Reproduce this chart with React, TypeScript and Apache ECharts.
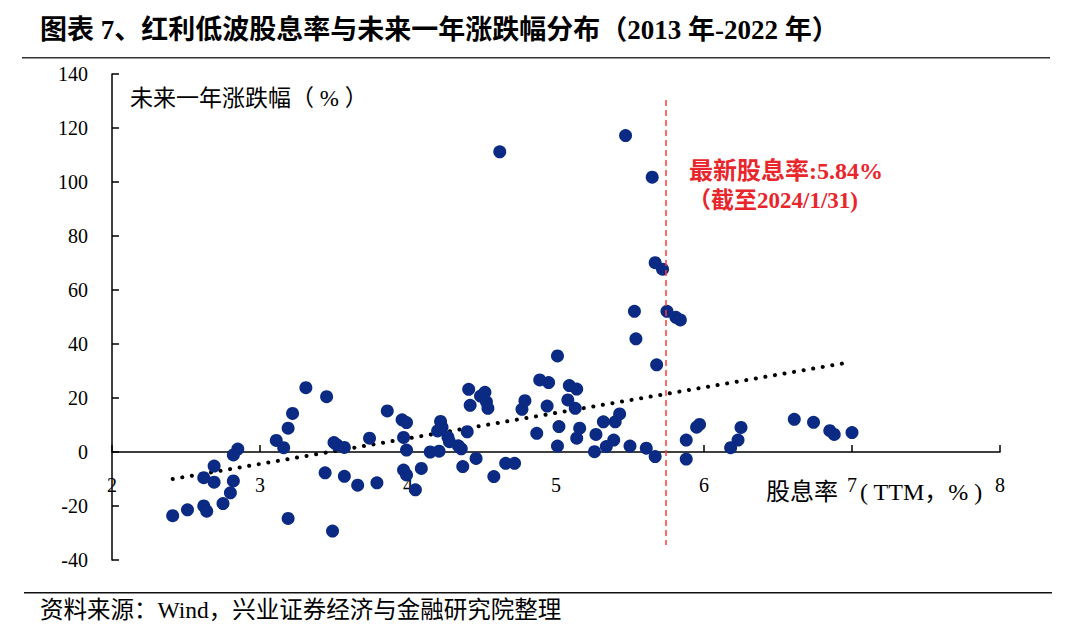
import React, { useEffect, useRef } from "react";
import * as echarts from "echarts";

// dividend yield (TTM, %)
const yieldX: number[] = [
  2.41, 2.51, 2.62, 2.64, 2.75, 2.80, 2.82, 2.69, 2.62, 2.69, 2.82, 2.85, 3.11, 3.16, 3.19, 3.22,
  3.31, 3.45, 3.19, 3.49, 3.44, 3.57, 3.66, 3.79, 3.50, 3.52, 3.57, 3.74, 3.86, 3.96, 3.99, 3.97,
  3.99, 3.97, 3.99, 4.05, 4.09, 4.15, 4.21, 4.20, 4.22, 4.23, 4.27, 4.28, 4.34, 4.36, 4.37, 4.40,
  4.41, 4.42, 4.46, 4.49, 4.52, 4.53, 4.54, 4.58, 4.66, 4.72, 4.77, 4.79, 4.87, 4.89, 4.95, 4.94,
  5.01, 5.02, 5.01, 5.09, 5.14, 5.08, 5.13, 5.16, 5.14, 5.26, 5.27, 5.32, 5.40, 5.43, 5.34, 5.39,
  5.50, 5.61, 5.67, 5.54, 5.68, 5.88, 5.88, 5.95, 5.97, 6.18, 6.23, 6.25, 6.61, 6.74, 6.85, 6.88,
  7.00, 4.62, 5.47, 5.65, 5.67, 5.72, 5.53, 5.75, 5.81, 5.84,
];
// next-year return (%)
const returnY: number[] = [
  -23.6, -21.4, -20.0, -21.9, -19.1, -15.1, -10.7, -11.2, -9.5, -5.2, -1.1, 1.1, 4.3, 1.6, 8.8, 14.3,
  23.8, 20.5, -24.6, -29.3, -7.7, -9.0, -12.3, -11.4, 3.5, 2.6, 1.7, 5.1, 15.2, 11.9, 10.9, 5.4,
  0.7, -6.7, -8.5, -14.0, -6.1, 0.0, 0.3, 7.8, 11.3, 9.2, 5.5, 3.8, 2.3, 1.2, -5.4, 7.5,
  23.2, 17.3, -2.4, 20.7, 22.1, 18.6, 16.2, -9.1, -4.2, -4.2, 15.8, 19.0, 6.9, 26.7, 25.7, 17.0,
  35.6, 9.4, 2.2, 24.6, 23.3, 19.3, 16.2, 8.8, 5.1, 0.1, 6.5, 11.2, 11.2, 14.1, 2.0, 4.4,
  2.2, 1.4, -1.7, 41.9, 32.3, 4.4, -2.6, 9.2, 10.2, 1.6, 4.4, 9.1, 12.1, 11.0, 7.9, 6.5,
  7.2, 111.2, 117.2, 101.8, 70.1, 67.7, 52.1, 52.1, 49.9, 48.9,
];

// dotted trend line end points
const trendX: number[] = [2.41, 6.97];
const trendY: number[] = [-10.0, 33.1];

// latest dividend yield marker line (drawn position) and its vertical extent
const latestLineX = 5.74;
const latestLineY: number[] = [130.4, -34.4];

const xTicks = { min: 2, max: 8, interval: 1 };
const yTicks = { min: -40, max: 140, interval: 20 };

const titleText = "图表 7、红利低波股息率与未来一年涨跌幅分布（2013 年-2022 年）";
const yName = "未来一年涨跌幅（ % ）";
const xNameA = "股息率";
const xNameB = "( TTM，% )";
const noteLine1 = "最新股息率:5.84%";
const noteLine2 = "（截至2024/1/31)";
const sourceText = "资料来源：Wind，兴业证券经济与金融研究院整理";

const SERIF = '"Liberation Serif", "Times New Roman", "Noto Sans CJK SC", serif';

const GRID_TOP = 74;
const GRID_BOTTOM = 78;
const CHART_H = 638;

export default function App() {
  const ref = useRef<HTMLDivElement>(null);
  useEffect(() => {
    document.body.style.margin = "0";
    const chart = echarts.init(ref.current!, undefined, { renderer: "svg" });
    const points = yieldX.map((x, i) => [x, returnY[i]]);
    const trend = trendX.map((x, i) => [x, trendY[i]]);
    // move the x axis up to the y = 0 line (axis-relative offset)
    const plotH = CHART_H - GRID_TOP - GRID_BOTTOM;
    const zeroOffset = -(plotH * (0 - yTicks.min)) / (yTicks.max - yTicks.min);
    chart.setOption({
      animation: false,
      backgroundColor: "#ffffff",
      grid: { left: 112, right: 80, top: GRID_TOP, bottom: GRID_BOTTOM },
      xAxis: {
        type: "value",
        min: xTicks.min,
        max: xTicks.max,
        interval: xTicks.interval,
        offset: zeroOffset,
        axisLine: { onZero: false, lineStyle: { color: "#000", width: 1.5 } },
        axisTick: { show: true, inside: true, length: 7, lineStyle: { color: "#000", width: 1.5 } },
        axisLabel: { color: "#000", fontSize: 20, fontFamily: SERIF, margin: 23, showMinLabel: true, showMaxLabel: true },
        splitLine: { show: false },
      },
      yAxis: {
        type: "value",
        min: yTicks.min,
        max: yTicks.max,
        interval: yTicks.interval,
        axisLine: { show: true, onZero: false, lineStyle: { color: "#000", width: 1.5 } },
        axisTick: { show: true, inside: true, length: 7, lineStyle: { color: "#000", width: 1.5 } },
        axisLabel: { color: "#000", fontSize: 20, fontFamily: SERIF, margin: 24 },
        splitLine: { show: false },
      },
      series: [
        {
          type: "line",
          data: trend,
          showSymbol: false,
          symbol: "none",
          silent: true,
          z: 3,
          lineStyle: { color: "#000", width: 4, type: [0.1, 9.6], cap: "round" },
        },
        {
          type: "scatter",
          data: points,
          symbolSize: 13,
          z: 4,
          itemStyle: { color: "#0A2A84", opacity: 1 },
          markLine: {
            silent: true,
            symbol: "none",
            label: { show: false },
            lineStyle: { color: "#FF3B3B", type: [6, 4], width: 1.5 },
            data: [
              [
                { coord: [latestLineX, latestLineY[0]] },
                { coord: [latestLineX, latestLineY[1]] },
              ],
            ],
          },
        },
      ],
      graphic: [
        {
          type: "text",
          left: 40,
          top: 16,
          style: { text: titleText, fontSize: 27, fontWeight: "bold", fill: "#000", fontFamily: SERIF },
        },
        { type: "rect", shape: { x: 22, y: 57, width: 1028, height: 1.5 }, style: { fill: "#333" } },
        { type: "rect", shape: { x: 24, y: 592, width: 1028, height: 1.5 }, style: { fill: "#111" } },
        {
          type: "text",
          left: 40,
          top: 598,
          style: { text: sourceText, fontSize: 23.5, fill: "#000", fontFamily: SERIF },
        },
        {
          type: "text",
          left: 130,
          top: 87,
          style: { text: yName, fontSize: 23, fill: "#000", fontFamily: SERIF },
        },
        {
          type: "text",
          left: 766,
          top: 480,
          style: { text: xNameA, fontSize: 24, fill: "#000", fontFamily: SERIF },
        },
        {
          type: "text",
          left: 860,
          top: 480,
          style: { text: xNameB, fontSize: 24, fill: "#000", fontFamily: SERIF },
        },
        {
          type: "text",
          left: 689,
          top: 159,
          style: { text: noteLine1, fontSize: 24, fontWeight: "bold", fill: "#E8262B", fontFamily: SERIF },
        },
        {
          type: "text",
          left: 688,
          top: 189,
          style: { text: noteLine2, fontSize: 23, fontWeight: "bold", fill: "#E8262B", fontFamily: SERIF },
        },
      ],
    });
    return () => chart.dispose();
  }, []);
  return <div ref={ref} style={{ position: "fixed", left: 0, top: 0, width: 1080, height: 638 }} />;
}
